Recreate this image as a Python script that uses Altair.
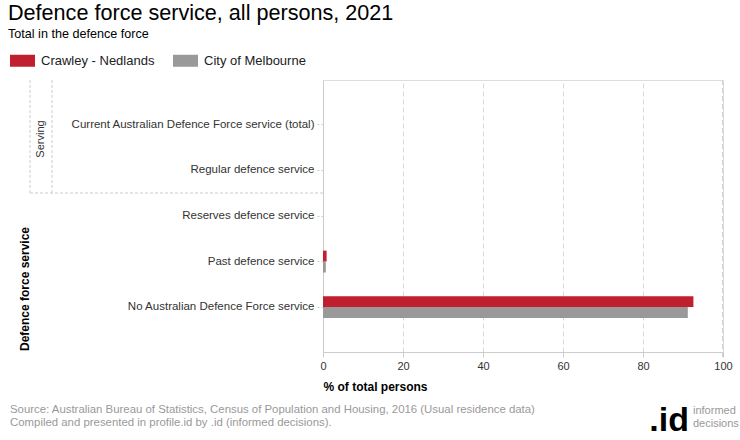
import altair as alt
import pandas as pd

categories = [
    "Current Australian Defence Force service (total)",
    "Regular defence service",
    "Reserves defence service",
    "Past defence service",
    "No Australian Defence Force service",
]
series = ["Crawley - Nedlands", "City of Melbourne"]
crawley = [0.0, 0.0, 0.0, 0.9, 92.6]
melbourne = [0.0, 0.0, 0.0, 0.7, 91.2]
colors = ["#BF1F2E", "#999999"]
x_ticks = [0, 20, 40, 60, 80, 100]

rows = []
for c, a, b in zip(categories, crawley, melbourne):
    rows.append({"cat": c, "series": series[0], "value": a})
    rows.append({"cat": c, "series": series[1], "value": b})
df = pd.DataFrame(rows)

FONT = "Liberation Sans"
one = alt.Data(values=[{}])

bars = alt.Chart(df).mark_bar().encode(
    y=alt.Y("cat:N", sort=categories, title=None,
            scale=alt.Scale(paddingInner=0.52, paddingOuter=0.745),
            axis=alt.Axis(domain=True, domainColor="#cccccc", ticks=True,
                          tickColor="#cccccc", tickDash=[2, 2], tickSize=7,
                          labelFontSize=11.5, labelColor="#333333", labelFont=FONT,
                          labelPadding=2, grid=False, labelLimit=300)),
    yOffset=alt.YOffset("series:N", sort=series,
                        scale=alt.Scale(paddingInner=0, paddingOuter=0)),
    x=alt.X("value:Q", scale=alt.Scale(domain=[0, 100]),
            title="% of total persons",
            axis=alt.Axis(values=x_ticks, grid=True, labelFlush=False,
                          gridColor="#d9d9d9", gridDash=[5, 3],
                          domainColor="#cccccc", tickColor="#cccccc", tickSize=5,
                          labelFontSize=11, labelColor="#333333", labelFont=FONT,
                          labelPadding=3, titleFont=FONT, titleFontSize=12,
                          titleFontWeight="bold", titleColor="#000000",
                          titleAnchor="start", titleAlign="left", titlePadding=10)),
    color=alt.Color("series:N", sort=series,
                    scale=alt.Scale(domain=series, range=colors),
                    legend=alt.Legend(orient="none", legendX=-313, legendY=-32,
                                      direction="horizontal", title=None,
                                      symbolType="M-1,-0.48L1,-0.48L1,0.48L-1,0.48Z",
                                      symbolSize=625, symbolStrokeWidth=0,
                                      symbolOpacity=1,
                                      labelFontSize=13, labelFont=FONT,
                                      labelColor="#222222", labelOffset=6,
                                      columnPadding=18)),
)

# gridline at the right edge (100)
edge = alt.Chart(one).mark_rule(
    color="#d0d0d0", strokeDash=[5, 3], strokeWidth=1).encode(
    x=alt.value(399.5), y=alt.value(0), y2=alt.value(277))

def txt(s, x, y, size=11, color="#999999", weight="normal", align="left",
        angle=0, baseline="alphabetic"):
    return alt.Chart(one).mark_text(
        text=s, fontSize=size, font=FONT, color=color, fontWeight=weight,
        align=align, baseline=baseline, angle=angle
    ).encode(x=alt.value(x), y=alt.value(y))

def rule(x, x2, y, y2):
    return alt.Chart(one).mark_rule(color="#cccccc", strokeDash=[3, 2],
                                    strokeWidth=1).encode(
        x=alt.value(x), x2=alt.value(x2), y=alt.value(y), y2=alt.value(y2))

layers = [
    bars,
    edge,
    rule(-293, -293, 0, 113),
    rule(-271, -271, 0, 113),
    rule(-293, 0, 113, 113),
    txt("Serving", -282, 59, size=11, color="#333333", align="center",
        angle=270, baseline="middle"),
    txt("Defence force service", -298, 209, size=12, color="#000000",
        weight="bold", align="center", angle=270, baseline="middle"),
    txt("Defence force service, all persons, 2021", -315, -60, size=21.6,
        color="#000000"),
    txt("Total in the defence force", -315, -42, size=12.6, color="#000000"),
    txt("Source: Australian Bureau of Statistics, Census of Population and Housing, 2016 (Usual residence data)",
        -313, 333, size=11.4),
    txt("Compiled and presented in profile.id by .id (informed decisions).",
        -313, 346, size=11.4),
    txt(".id", 366, 351, size=34, color="#000000", weight="bold", align="right"),
    txt("informed", 370, 334, size=11),
    txt("decisions", 370, 347, size=11),
]

chart = alt.layer(*layers).properties(
    width=400, height=272,
    padding={"left": 323, "top": 80, "right": 17, "bottom": 88},
    autosize=alt.AutoSizeParams(type="none"),
).configure_view(stroke=None).configure(background="white")

chart.save("out.html", embed_options={"renderer": "svg", "actions": False})
